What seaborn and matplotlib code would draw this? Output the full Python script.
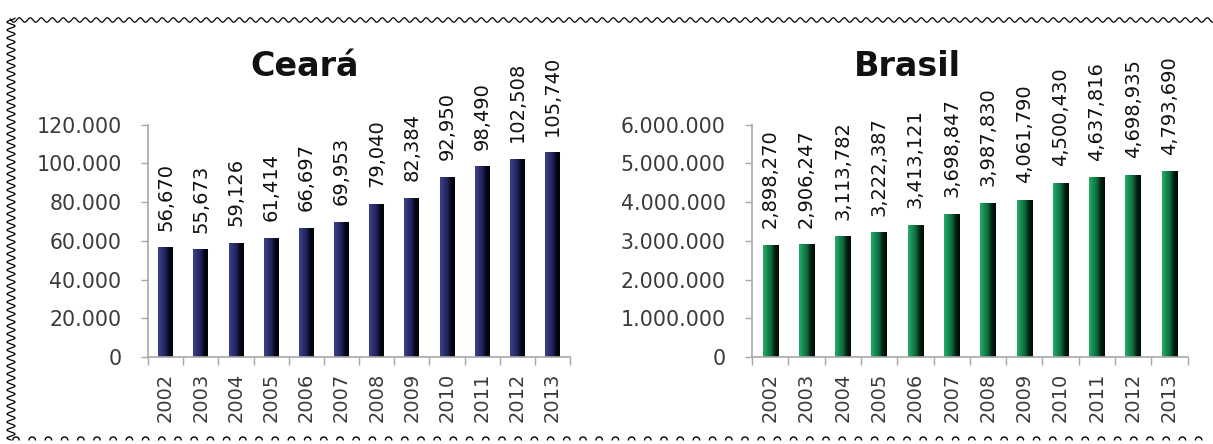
import numpy as np
import matplotlib
matplotlib.use("Agg")
import matplotlib.pyplot as plt
from matplotlib.colors import LinearSegmentedColormap
from matplotlib.lines import Line2D
from matplotlib.ticker import FuncFormatter, FixedLocator
import seaborn as sns

# ---- data -----------------------------------------------------------------
years = ["2002", "2003", "2004", "2005", "2006", "2007",
         "2008", "2009", "2010", "2011", "2012", "2013"]
ceara = [56670, 55673, 59126, 61414, 66697, 69953,
         79040, 82384, 92950, 98490, 102508, 105740]
brasil = [2898270, 2906247, 3113782, 3222387, 3413121, 3698847,
          3987830, 4061790, 4500430, 4637816, 4698935, 4793690]
ceara_ticks = [0, 20000, 40000, 60000, 80000, 100000, 120000]
brasil_ticks = [0, 1000000, 2000000, 3000000, 4000000, 5000000, 6000000]
titles = ["Ceará", "Brasil"]

sns.set_theme(style="white")
plt.rcParams["font.family"] = ["DejaVu Sans"]

fig = plt.figure(figsize=(12.13, 4.44), dpi=100)
fig.patch.set_facecolor("white")

ax_c = fig.add_axes([0.122, 0.196, 0.348, 0.523])
ax_b = fig.add_axes([0.620, 0.196, 0.359, 0.523])

navy = LinearSegmentedColormap.from_list(
    "navy", ["#3c418f", "#2d3175", "#20235a", "#06061a", "#020208"])
green = LinearSegmentedColormap.from_list(
    "green", ["#27ad6b", "#158c52", "#0e6a3d", "#03200f", "#010a05"])

text_col = "#3a3a3a"
axis_col = "#a8a8a8"


def dot_thousands(v, _pos=None):
    return f"{int(round(v)):,}".replace(",", ".")


def draw_panel(ax, values, ticks, base_color, cmap):
    sns.barplot(x=years, y=values, color=base_color, width=0.42,
                saturation=1, ax=ax)
    ax.set_xlim(-0.5, len(years) - 0.5)
    ax.set_ylim(ticks[0], ticks[-1])

    # shaded fill for every bar, clipped to the bar itself
    grad = np.linspace(0, 1, 64).reshape(1, -1)
    for patch in list(ax.patches):
        x0, y0 = patch.get_x(), patch.get_y()
        w, h = patch.get_width(), patch.get_height()
        im = ax.imshow(grad, extent=[x0, x0 + w, y0, y0 + h],
                       aspect="auto", cmap=cmap, zorder=patch.get_zorder() + 0.1,
                       interpolation="bicubic")
        im.set_clip_path(patch)
    ax.set_xlim(-0.5, len(years) - 0.5)
    ax.set_ylim(ticks[0], ticks[-1])
    ax.set_aspect("auto")

    labels = [f"{v:,}" for v in values]
    ax.bar_label(ax.containers[0], labels=labels, rotation=90,
                 padding=12, fontsize=14, color="#111111")

    ax.yaxis.set_major_locator(FixedLocator(ticks))
    ax.yaxis.set_major_formatter(FuncFormatter(dot_thousands))
    ax.tick_params(axis="y", length=5, width=1, color=axis_col,
                   labelsize=14.8, labelcolor=text_col, pad=14, left=True)

    ax.set_xticks(range(len(years)))
    ax.set_xticklabels(years, rotation=90)
    ax.set_xticks(np.arange(-0.5, len(years)), minor=True)
    ax.tick_params(axis="x", which="major", length=0, labelsize=14,
                   labelcolor=text_col, pad=11)
    ax.tick_params(axis="x", which="minor", length=6, width=1,
                   color=axis_col, bottom=True)
    ax.set_xlabel("")
    ax.set_ylabel("")
    ax.grid(False)
    for side in ("top", "right"):
        ax.spines[side].set_visible(False)
    for side in ("left", "bottom"):
        ax.spines[side].set_color(axis_col)
        ax.spines[side].set_linewidth(1.2)


draw_panel(ax_c, ceara, ceara_ticks, "#2b2f72", navy)
draw_panel(ax_b, brasil, brasil_ticks, "#13884f", green)

fig.text(0.251, 0.829, titles[0], ha="center", va="baseline",
         fontsize=24, fontweight="bold", color="#111111")
fig.text(0.748, 0.829, titles[1], ha="center", va="baseline",
         fontsize=24, fontweight="bold", color="#111111")

# torn-paper style frame: wavy top and left edges, small arches along the bottom
W, H = 1213.0, 444.0
xs = np.linspace(10, W, 2400)
fig.add_artist(Line2D(xs / W, 1 - (20 + 2.2 * np.sin(2 * np.pi * xs / 11)) / H,
                      transform=fig.transFigure, color="black", lw=0.9))
ys = np.linspace(18, 440, 1200)
fig.add_artist(Line2D((11 + 4.0 * np.sin(2 * np.pi * ys / 8)) / W, 1 - ys / H,
                      transform=fig.transFigure, color="black", lw=0.9))
arch_x, arch_y = [], []
t = np.linspace(0, np.pi, 12)
for cx in np.arange(16, W, 16.2):
    arch_x.extend(list(cx + 3.2 * np.cos(t)) + [np.nan])
    arch_y.extend(list(440 - 3.0 * np.sin(t)) + [np.nan])
fig.add_artist(Line2D(np.array(arch_x) / W, 1 - np.array(arch_y) / H,
                      transform=fig.transFigure, color="black", lw=1.0))

fig.savefig("out.png", dpi=100, facecolor="white")
